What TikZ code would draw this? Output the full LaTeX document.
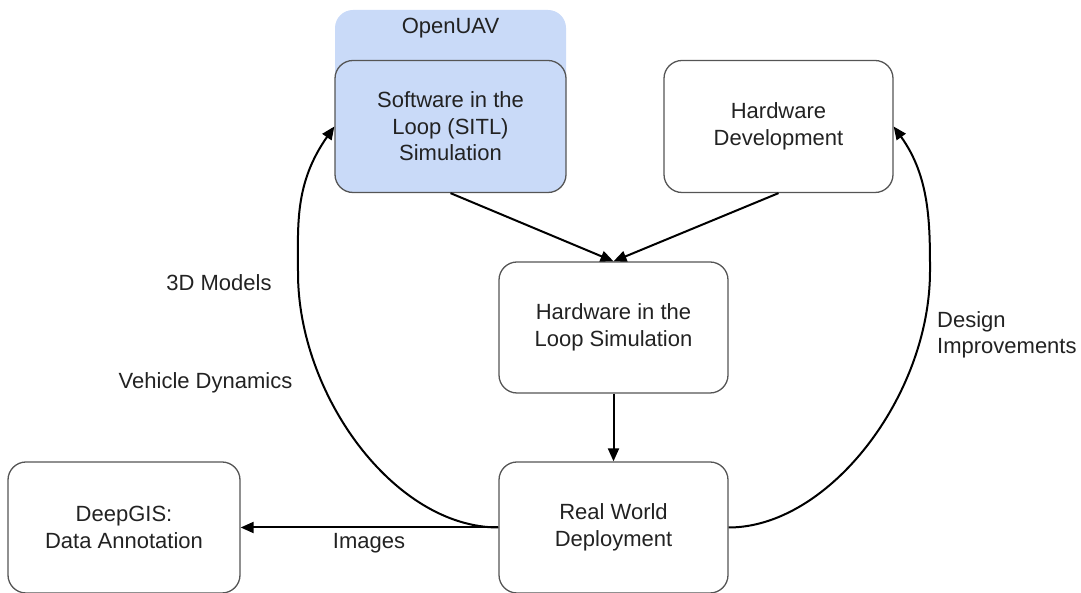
\documentclass[tikz,border=0pt]{standalone}
\usepackage{fontspec}
\setmainfont{Liberation Sans}
\usetikzlibrary{arrows.meta}
\definecolor{txt}{HTML}{222222}
\definecolor{bord}{HTML}{555555}
\definecolor{uavblue}{HTML}{C9DAF8}
\tikzset{
  x=1pt, y=1pt,
  box/.style={draw=bord, line width=1.3pt, rounded corners=18pt, minimum width=230pt, minimum height=131pt, align=center, text=txt, inner sep=0pt, font=\fontsize{22}{26.5}\selectfont},
  lbl/.style={text=txt, align=left, inner sep=0pt, font=\fontsize{22}{26.5}\selectfont},
  arr/.style={line width=2pt, -{Triangle[length=13pt,width=11pt]}}
}
\begin{document}
\begin{tikzpicture}
\useasboundingbox (0,0) rectangle (1081,593);
% OpenUAV background
\fill[uavblue, rounded corners=18pt] (335,440) rectangle (566,583);
\node[lbl] (openuav) at (450.5,565) {OpenUAV};
% boxes
\node[box, fill=uavblue, minimum width=231pt, minimum height=132pt] (sitl) at (450.5,466.5) {Software in the\\Loop (SITL)\\Simulation};
\node[box, minimum width=229pt, minimum height=132pt] (hwd) at (778.5,466.5) {Hardware\\Development};
\node[box, minimum width=229pt] (hitl) at (613.5,265.5) {Hardware in the\\Loop Simulation};
\node[box, minimum width=229pt] (rwd) at (613.5,65.5) {Real World\\Deployment};
\node[box, minimum width=232pt] (deep) at (124,65.5) {DeepGIS:\\Data Annotation};
% straight arrows
\draw[arr] (sitl.south) -- (hitl.north);
\draw[arr] (hwd.south) -- (hitl.north);
\draw[arr] (hitl.south) -- (rwd.north);
\draw[arr] (rwd.west) -- (deep.east);
\node[lbl] (images) at (369,50) {Images};
% curved feedback arrows
\coordinate (lmid) at (298,320);
\coordinate (rmid) at (930,322);
\draw[arr] (rwd.west) .. controls +(-104,0) and +(0,-122) .. (lmid)
  .. controls +(0,48) and +(-40,-57) .. (sitl.west);
\draw[arr] (rwd.east) .. controls +(100,0) and +(0,-125) .. (rmid)
  .. controls +(0,48) and +(36,-50) .. (hwd.east);
\node[lbl] (models) at (219,310) {3D Models};
\node[lbl] (dyn) at (205.5,210) {Vehicle Dynamics};
\node[lbl, anchor=west] (design) at (937,258) {Design\\Improvements};
\end{tikzpicture}
\end{document}
